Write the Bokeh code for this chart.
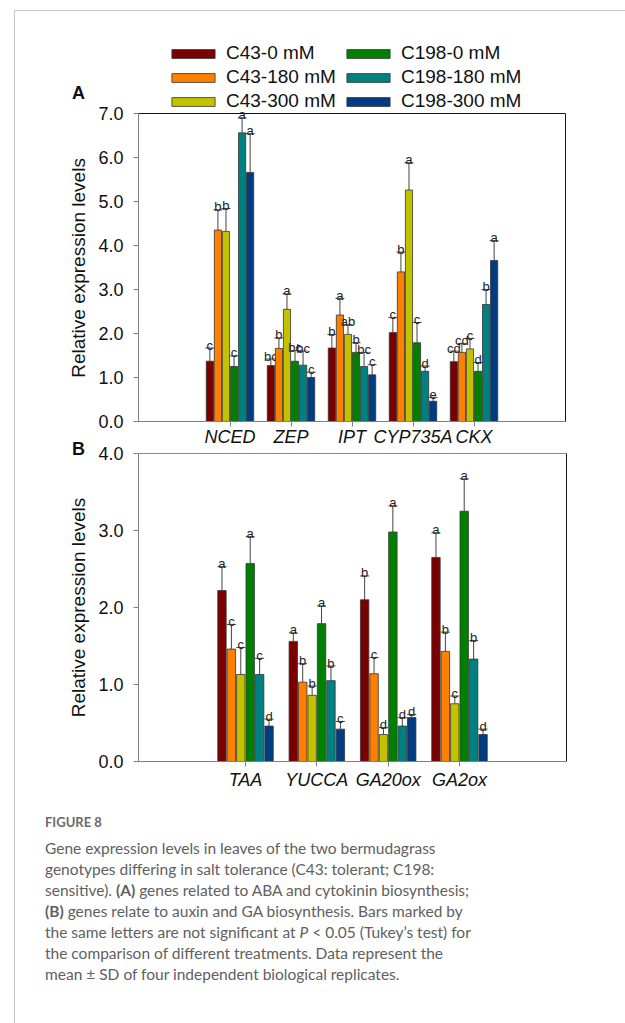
from bokeh.plotting import figure
from bokeh.models import (ColumnDataSource, FactorRange, Range1d, Legend, LegendItem, Div, Span,
                          LinearAxis, FixedTicker, NumeralTickFormatter, Whisker, TeeHead)
from bokeh.transform import dodge
from bokeh.layouts import column
from bokeh.core.properties import value
from bokeh.embed import file_html
from bokeh.resources import INLINE

FONT = "Liberation Sans"

SERIES = ["C43-0 mM", "C43-180 mM", "C43-300 mM", "C198-0 mM", "C198-180 mM", "C198-300 mM"]
COLORS = ["#7a0000", "#ff8000", "#c2c200", "#008000", "#008080", "#003c82"]

# ---- Panel A ----
GENES_A = ["NCED", "ZEP", "IPT", "CYP735A", "CKX"]
A_C43_0 = [1.37, 1.27, 1.67, 2.02, 1.36]
A_C43_180 = [4.35, 1.66, 2.42, 3.40, 1.57]
A_C43_300 = [4.32, 2.55, 1.98, 5.26, 1.65]
A_C198_0 = [1.25, 1.37, 1.57, 1.79, 1.14]
A_C198_180 = [6.56, 1.28, 1.25, 1.14, 2.66]
A_C198_300 = [5.66, 1.00, 1.06, 0.46, 3.66]

A_SD_C43_0 = [0.30, 0.15, 0.31, 0.34, 0.24]
A_SD_C43_180 = [0.46, 0.24, 0.38, 0.45, 0.20]
A_SD_C43_300 = [0.52, 0.35, 0.22, 0.62, 0.24]
A_SD_C198_0 = [0.24, 0.24, 0.22, 0.46, 0.20]
A_SD_C198_180 = [0.34, 0.32, 0.32, 0.12, 0.34]
A_SD_C198_300 = [0.88, 0.12, 0.23, 0.09, 0.45]

A_LET_C43_0 = ["c", "bc", "b", "c", "cd"]
A_LET_C43_180 = ["b", "b", "a", "b", "cd"]
A_LET_C43_300 = ["b", "a", "ab", "a", "c"]
A_LET_C198_0 = ["c", "bc", "b", "c", "d"]
A_LET_C198_180 = ["a", "bc", "bc", "d", "b"]
A_LET_C198_300 = ["a", "c", "c", "e", "a"]

# ---- Panel B ----
GENES_B = ["TAA", "YUCCA", "GA20ox", "GA2ox"]
B_C43_0 = [2.22, 1.56, 2.10, 2.65]
B_C43_180 = [1.46, 1.03, 1.14, 1.43]
B_C43_300 = [1.13, 0.86, 0.35, 0.75]
B_C198_0 = [2.57, 1.79, 2.98, 3.25]
B_C198_180 = [1.13, 1.05, 0.46, 1.33]
B_C198_300 = [0.46, 0.42, 0.57, 0.35]

B_SD_C43_0 = [0.31, 0.11, 0.31, 0.32]
B_SD_C43_180 = [0.32, 0.24, 0.21, 0.25]
B_SD_C43_300 = [0.35, 0.12, 0.09, 0.10]
B_SD_C198_0 = [0.35, 0.23, 0.34, 0.42]
B_SD_C198_180 = [0.21, 0.19, 0.11, 0.24]
B_SD_C198_300 = [0.09, 0.10, 0.04, 0.07]

B_LET_C43_0 = ["a", "a", "b", "a"]
B_LET_C43_180 = ["c", "b", "c", "b"]
B_LET_C43_300 = ["c", "b", "d", "c"]
B_LET_C198_0 = ["a", "a", "a", "a"]
B_LET_C198_180 = ["c", "b", "d", "b"]
B_LET_C198_300 = ["d", "c", "d", "d"]

Y_TICKS_A = [0, 1, 2, 3, 4, 5, 6, 7]
Y_TICKS_B = [0, 1, 2, 3, 4]
Y_LABEL = "Relative expression levels"

AXIS_GRAY = "#808080"
ERR_COLOR = "#444444"
PX_PER_PANEL = 308  # pixel height of the 0..ymax axis


def make_legend(items, x):
    return Legend(items=items, location=(x, PX_PER_PANEL + 1), orientation="vertical",
                  label_text_font=FONT, label_text_font_size="19px",
                  label_text_color="#111111", glyph_width=54, glyph_height=11, label_standoff=6,
                  spacing=2, padding=0, margin=0, border_line_color=None,
                  background_fill_alpha=0)


def make_panel(genes, means, sds, letters, ymax, yticks, frame_left, frame_w, extra_top,
               top_border, bottom_border, label_standoff_x, with_legend=False, **kw):
    fh = PX_PER_PANEL + extra_top
    view_max = ymax * fh / PX_PER_PANEL
    p = figure(x_range=FactorRange(*genes, range_padding=1.0, range_padding_units="absolute"),
               y_range=Range1d(0, view_max), frame_width=frame_w, frame_height=fh,
               min_border_left=frame_left, min_border_right=610 - frame_left - frame_w,
               min_border_top=top_border, min_border_bottom=bottom_border,
               output_backend="svg", toolbar_location=None, **kw)
    p.outline_line_color = None
    p.background_fill_color = None
    p.border_fill_color = None
    p.xgrid.visible = False
    p.ygrid.visible = False

    step = 0.132
    width = 0.118
    items = []
    for i, name in enumerate(SERIES):
        off = (i - 2.5) * step
        tops = [m + s for m, s in zip(means[i], sds[i])]
        src = ColumnDataSource(dict(gene=genes, mean=means[i], top=tops, letter=letters[i]))
        r = p.vbar(x=dodge("gene", off, range=p.x_range), top="mean", width=width, source=src,
                   fill_color=COLORS[i], line_color="#333333", line_width=0.8)
        items.append(LegendItem(label=name, renderers=[r]))
        wh = Whisker(base=dodge("gene", off, range=p.x_range), upper="top", lower="mean",
                     source=src, line_color=ERR_COLOR, line_width=1,
                     upper_head=TeeHead(size=9, line_color=ERR_COLOR, line_width=1),
                     lower_head=None)
        p.add_layout(wh)
        p.text(x=dodge("gene", off, range=p.x_range), y="top", text="letter", source=src,
               text_align="center", text_baseline="alphabetic", y_offset=-3,
               text_font=value(FONT), text_font_size="13px", text_color="#222222")

    ya = p.yaxis[0]
    ya.bounds = (0, ymax)
    ya.ticker = FixedTicker(ticks=yticks)
    ya.formatter = NumeralTickFormatter(format="0.0")
    # the axis label is centred on the whole frame; pad it so it sits centred on 0..ymax
    ya.axis_label = Y_LABEL + "\u00a0" * round(extra_top / 5.28)
    ya.axis_label_text_font = FONT
    ya.axis_label_text_font_size = "19px"
    ya.axis_label_text_font_style = "normal"
    ya.axis_label_text_color = "#111111"
    ya.axis_label_standoff = 6
    ya.major_label_text_font = FONT
    ya.major_label_text_font_size = "18px"
    ya.major_label_text_color = "#111111"
    ya.major_label_standoff = 10
    ya.axis_line_color = AXIS_GRAY
    ya.major_tick_line_color = AXIS_GRAY
    ya.major_tick_out = 5
    ya.major_tick_in = 0
    ya.minor_tick_line_color = None

    xa = p.xaxis[0]
    xa.major_label_text_font = FONT
    xa.major_label_text_font_size = "18px"
    xa.major_label_text_font_style = "italic"
    xa.major_label_text_color = "#111111"
    xa.major_label_standoff = label_standoff_x
    xa.axis_line_color = AXIS_GRAY
    xa.major_tick_line_color = AXIS_GRAY
    xa.major_tick_out = 5
    xa.major_tick_in = 0

    # black frame: top line at ymax, right line from 0 to ymax
    p.add_layout(Span(location=ymax, dimension="width", line_color="#111111", line_width=1))
    right_ax = LinearAxis(ticker=FixedTicker(ticks=[]), bounds=(0, ymax), axis_line_color="#111111",
                          major_tick_line_color=None, minor_tick_line_color=None,
                          major_label_text_font_size="0px", major_label_standoff=0,
                          major_tick_out=0, major_tick_in=0)
    p.add_layout(right_ax, "right")

    if with_legend:
        p.add_layout(make_legend(items[:3], 28), "center")
        p.add_layout(make_legend(items[3:], 203), "center")
    return p


def letter_div(txt, top_margin):
    html = ('<div style="font-family:\'Liberation Sans\', Arial, sans-serif; font-size:18px; '
            'font-weight:bold; line-height:20px; color:#111111; margin:0;">' + txt + '</div>')
    return Div(text=html, width=30, height=20, margin=(top_margin, 0, 0, 57))


# letter A: page y 83..103
divA = letter_div("A", 72)

# panel A: page y 11..451, frame 40..421 (axis 0..7 on 113..421)
pA = make_panel(GENES_A,
                [A_C43_0, A_C43_180, A_C43_300, A_C198_0, A_C198_180, A_C198_300],
                [A_SD_C43_0, A_SD_C43_180, A_SD_C43_300, A_SD_C198_0, A_SD_C198_180, A_SD_C198_300],
                [A_LET_C43_0, A_LET_C43_180, A_LET_C43_300, A_LET_C198_0, A_LET_C198_180, A_LET_C198_300],
                7, Y_TICKS_A, 123, 427, 73, 29, 30, 0, with_legend=True, margin=(-92, 0, 0, 0))

# letter B: page y 439..459
divB = letter_div("B", -12)

pB = make_panel(GENES_B,
                [B_C43_0, B_C43_180, B_C43_300, B_C198_0, B_C198_180, B_C198_300],
                [B_SD_C43_0, B_SD_C43_180, B_SD_C43_300, B_SD_C198_0, B_SD_C198_180, B_SD_C198_300],
                [B_LET_C43_0, B_LET_C43_180, B_LET_C43_300, B_LET_C198_0, B_LET_C198_180, B_LET_C198_300],
                4, Y_TICKS_B, 123, 428, 0, 12, 30, 3, margin=(-18, 0, 0, 0))

caption_html = (
    '<div style="font-family:Lato, \'Open Sans\', sans-serif; color:#606060; padding:16px 0 0 25px;">'
    '<div style="font-size:13px; font-weight:bold; line-height:18px; color:#6a6a6a;">FIGURE 8</div>'
    '<div style="font-size:15.5px; line-height:21px; margin-top:7px; white-space:nowrap;">'
    'Gene expression levels in leaves of the two bermudagrass<br>'
    'genotypes differing in salt tolerance (C43: tolerant; C198:<br>'
    'sensitive). <b>(A)</b> genes related to ABA and cytokinin biosynthesis;<br>'
    '<b>(B)</b> genes relate to auxin and GA biosynthesis. Bars marked by<br>'
    'the same letters are not significant at <i>P</i> &lt; 0.05 (Tukey\u2019s test) for<br>'
    'the comparison of different treatments. Data represent the<br>'
    'mean \u00b1 SD of four independent biological replicates.'
    '</div></div>'
)
cap = Div(text=caption_html, width=610, height=230)

layout = column(divA, pA, divB, pB, cap, margin=(10, 0, 0, 14), spacing=0,
                styles={"border-left": "1px solid #c8c8c8", "border-top": "1px solid #c8c8c8"})

open("out.html", "w").write(file_html(layout, INLINE))
